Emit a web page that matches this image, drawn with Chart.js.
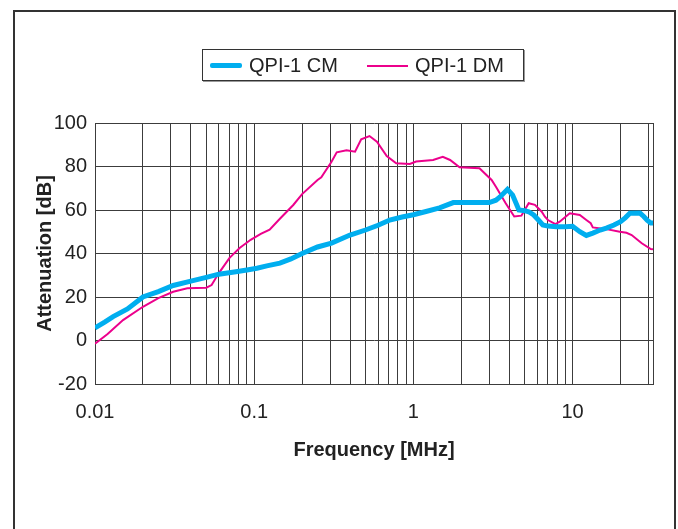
<!DOCTYPE html>
<html>
<head>
<meta charset="utf-8">
<script src="https://cdn.jsdelivr.net/npm/chart.js@4.4.0/dist/chart.umd.min.js"></script>
<style>
body { margin: 0; background: #fff; }
#wrap { position: relative; width: 678px; height: 529px; overflow: hidden; font-family: "Liberation Sans", Arial, sans-serif; }
#frame { position: absolute; left: 13px; top: 10px; width: 663px; height: 560px; border: 2px solid #333; box-sizing: border-box; }
#chart { position: absolute; left: 0; top: 0; }
#legend { position: absolute; left: 202px; top: 49px; width: 322px; height: 32px; border: 1px solid #333; box-sizing: border-box; box-shadow: 1px 1px 0 #999; background: #fff; }
#legend .ln { position: absolute; }
#legend .tx { position: absolute; top: 4px; font-size: 20px; line-height: 22px; color: #222; white-space: nowrap; }
</style>
</head>
<body>
<div id="wrap">
  <div id="frame"></div>
  <canvas id="chart" width="678" height="529"></canvas>
  <div id="legend">
    <div class="ln" style="left:7px;top:13px;width:32px;height:5px;background:#00aeef;border-radius:2px"></div>
    <div class="tx" style="left:46px">QPI-1 CM</div>
    <div class="ln" style="left:164px;top:15px;width:41px;height:2px;background:#ec008c"></div>
    <div class="tx" style="left:212px">QPI-1 DM</div>
  </div>
</div>
<script>
// values
var cmFreq = [0.01, 0.0115, 0.013, 0.016, 0.02, 0.025, 0.031, 0.04, 0.05, 0.06, 0.075, 0.09, 0.104, 0.12, 0.145, 0.17, 0.2, 0.25, 0.306, 0.4, 0.5, 0.6, 0.71, 0.85, 1.0, 1.2, 1.46, 1.78, 1.9, 2.4, 3.0, 3.3, 3.5, 3.9, 4.2, 4.6, 5.0, 5.3, 5.7, 6.1, 6.5, 7.0, 7.9, 9.0, 10, 11.1, 12.2, 13.4, 14.9, 16.3, 18.2, 20, 21.5, 22.9, 26.5, 28, 29.5, 31, 32];
var cmDb   = [5.8, 8.5, 11, 14.5, 20, 22.5, 25.3, 27.3, 29, 30.5, 31.5, 32.4, 33.2, 34.3, 35.6, 37.5, 40, 43, 44.8, 48.5, 50.8, 53, 55.4, 56.8, 57.8, 59.3, 61, 63.4, 63.4, 63.4, 63.4, 64.5, 66, 69.5, 66.9, 60, 59.7, 59.2, 57.7, 55.4, 53.1, 52.6, 52.3, 52.3, 52.5, 50, 48.3, 49.4, 50.8, 51.7, 53.1, 54.6, 56.5, 58.5, 58.6, 57, 55.2, 54, 54];

var dmFreq = [0.01, 0.012, 0.015, 0.02, 0.025, 0.031, 0.038, 0.05, 0.054, 0.06, 0.07, 0.081, 0.095, 0.11, 0.125, 0.145, 0.176, 0.2, 0.25, 0.264, 0.306, 0.33, 0.38, 0.43, 0.47, 0.53, 0.59, 0.68, 0.78, 0.95, 1.04, 1.33, 1.53, 1.7, 1.95, 2.6, 3.1, 3.3, 3.8, 4.3, 4.77, 5.3, 5.8, 6.4, 6.7, 7.0, 7.8, 8.3, 9.6, 11.1, 12.2, 13.0, 13.4, 16.3, 19.8, 21.8, 23.5, 27.2, 31, 32];
var dmDb   = [-1.5, 3, 9.4, 15.5, 19.5, 22.4, 24, 24.3, 25.5, 31, 38, 42.5, 46.3, 49, 51, 56, 62.3, 67.3, 73.8, 75, 82.2, 86.5, 87.5, 86.8, 92.5, 94, 91.4, 84.8, 81.5, 81.2, 82.3, 83, 84.5, 83, 79.6, 79.2, 73.8, 70.7, 63.1, 57, 57.4, 63.1, 62.4, 59.2, 56.9, 55.4, 53.5, 54.6, 58.5, 57.7, 55.4, 53.9, 52, 51.2, 50, 49.5, 48.5, 44.7, 42, 41.9];

var xGrid = [0.01, 0.02, 0.03, 0.04, 0.05, 0.06, 0.07, 0.08, 0.09,
             0.1, 0.2, 0.3, 0.4, 0.5, 0.6, 0.7, 0.8, 0.9,
             1, 2, 3, 4, 5, 6, 7, 8, 9,
             10, 20, 30, 32];
var xLabels = ['0.01', '0.1', '1', '10'];

function pts(xs, ys) {
    return xs.map(function(x, i) { return { x: x, y: ys[i] }; });
}

var font = { family: '"Liberation Sans", Arial, sans-serif', size: 20 };
var gridColor = '#3c3c3c';

new Chart(document.getElementById('chart'), {
    type: 'line',
    data: {
        datasets: [{
            label: 'QPI-1 CM',
            data: pts(cmFreq, cmDb),
            borderColor: '#00aeef',
            borderWidth: 5,
            pointRadius: 0,
            tension: 0
        }, {
            label: 'QPI-1 DM',
            data: pts(dmFreq, dmDb),
            borderColor: '#ec008c',
            borderWidth: 2,
            pointRadius: 0,
            tension: 0
        }]
    },
    options: {
        responsive: false,
        animation: false,
        layout: { padding: { left: 33, top: 123, right: 25, bottom: 67 } },
        plugins: {
            legend: { display: false },
            tooltip: { enabled: false }
        },
        scales: {
            x: {
                type: 'logarithmic',
                min: 0.01,
                max: 32,
                afterBuildTicks: function(scale) {
                    scale.ticks = xGrid.map(function(v) { return { value: v }; });
                },
                afterFit: function(scale) { scale.height = 78; },
                grid: { color: gridColor, lineWidth: 1, drawTicks: false },
                border: { color: gridColor, width: 1 },
                ticks: {
                    autoSkip: false,
                    maxRotation: 0,
                    padding: 16,
                    color: '#222',
                    font: font,
                    callback: function(value) {
                        var s = String(+value.toPrecision(3));
                        return xLabels.indexOf(s) >= 0 ? s : '';
                    }
                },
                title: {
                    display: true,
                    text: 'Frequency [MHz]',
                    color: '#222',
                    padding: 0,
                    font: { family: font.family, size: 20, weight: 'bold' }
                }
            },
            y: {
                min: -20,
                max: 100,
                afterFit: function(scale) { scale.width = 62; },
                grid: { color: gridColor, lineWidth: 1, drawTicks: false },
                border: { color: gridColor, width: 1 },
                ticks: { stepSize: 20, padding: 8, color: '#222', font: font },
                title: {
                    display: true,
                    text: 'Attenuation [dB]',
                    color: '#222',
                    padding: 0,
                    font: { family: font.family, size: 20, weight: 'bold' }
                }
            }
        }
    }
});
</script>
</body>
</html>
